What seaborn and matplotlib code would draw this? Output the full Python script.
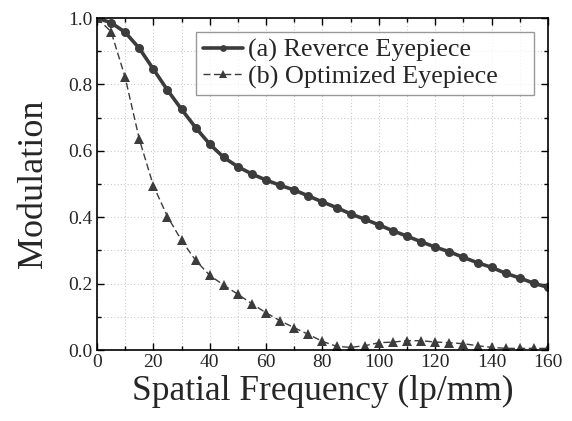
import numpy as np
import pandas as pd
import matplotlib
matplotlib.use("Agg")
import matplotlib.pyplot as plt
import seaborn as sns
from matplotlib.ticker import MultipleLocator

freq = list(range(0, 161, 5))
reverce = [1.0, 0.986, 0.957, 0.909, 0.846, 0.783, 0.725, 0.670, 0.620, 0.580,
           0.552, 0.530, 0.512, 0.496, 0.482, 0.464, 0.446, 0.429, 0.410, 0.394,
           0.377, 0.359, 0.343, 0.326, 0.310, 0.296, 0.279, 0.263, 0.249, 0.231,
           0.217, 0.201, 0.189]
optimized = [1.0, 0.959, 0.821, 0.635, 0.495, 0.402, 0.330, 0.270, 0.225, 0.195,
             0.168, 0.139, 0.112, 0.088, 0.067, 0.047, 0.026, 0.011, 0.008, 0.013,
             0.022, 0.024, 0.028, 0.028, 0.024, 0.022, 0.019, 0.013, 0.008, 0.005,
             0.005, 0.005, 0.005]
labels = ["(a) Reverce Eyepiece", "(b) Optimized Eyepiece"]

df = pd.concat([
    pd.DataFrame({"freq": freq, "mod": reverce, "series": labels[0]}),
    pd.DataFrame({"freq": freq, "mod": optimized, "series": labels[1]}),
])

sns.set_style("ticks")
plt.rcParams["font.family"] = ["Liberation Serif", "DejaVu Serif"]

fig = plt.figure(figsize=(5.72, 4.21), dpi=100)
ax = fig.add_axes([0.1696, 0.1686, 0.7884, 0.7885])

col = "#3c3c3c"
sns.lineplot(data=df[df.series == labels[0]], x="freq", y="mod", ax=ax,
             color=col, lw=2.6, marker="o", markersize=6.5, markeredgewidth=0,
             label=labels[0])
sns.lineplot(data=df[df.series == labels[1]], x="freq", y="mod", ax=ax,
             color=col, lw=1.0, linestyle=(0, (5, 2.5)), marker="^", markersize=7,
             markeredgewidth=0, label=labels[1])

ax.set_xlim(0, 160)
ax.set_ylim(0, 1.0)
ax.xaxis.set_major_locator(MultipleLocator(20))
ax.xaxis.set_minor_locator(MultipleLocator(10))
ax.yaxis.set_major_locator(MultipleLocator(0.2))
ax.yaxis.set_minor_locator(MultipleLocator(0.1))
ax.yaxis.set_major_formatter(matplotlib.ticker.FormatStrFormatter("%.1f"))
ax.tick_params(which="both", direction="in", top=True, right=True,
               labelsize=14, color="black", width=1.0)
ax.tick_params(which="major", length=5, pad=3)
ax.tick_params(which="minor", length=3)
ax.grid(True, which="both", color="#cccccc", linestyle=(0, (1, 2)), lw=0.8)
ax.set_axisbelow(True)
for s in ax.spines.values():
    s.set_color("black")
    s.set_linewidth(1.2)

ax.set_xlabel("Spatial Frequency (lp/mm)", fontsize=25.5, labelpad=3)
ax.set_ylabel("Modulation", fontsize=26, labelpad=13)

leg = ax.legend(loc="upper left", bbox_to_anchor=(0.2195, 0.758, 0.749, 0.2),
                mode="expand", fontsize=18.8,
                frameon=True, fancybox=False, edgecolor="#808080",
                handlelength=1.55, handletextpad=0.2, borderpad=0.25,
                labelspacing=0.1, borderaxespad=0.0, markerscale=0.75)
leg.get_frame().set_linewidth(1.0)

fig.savefig("out.png", dpi=100)
